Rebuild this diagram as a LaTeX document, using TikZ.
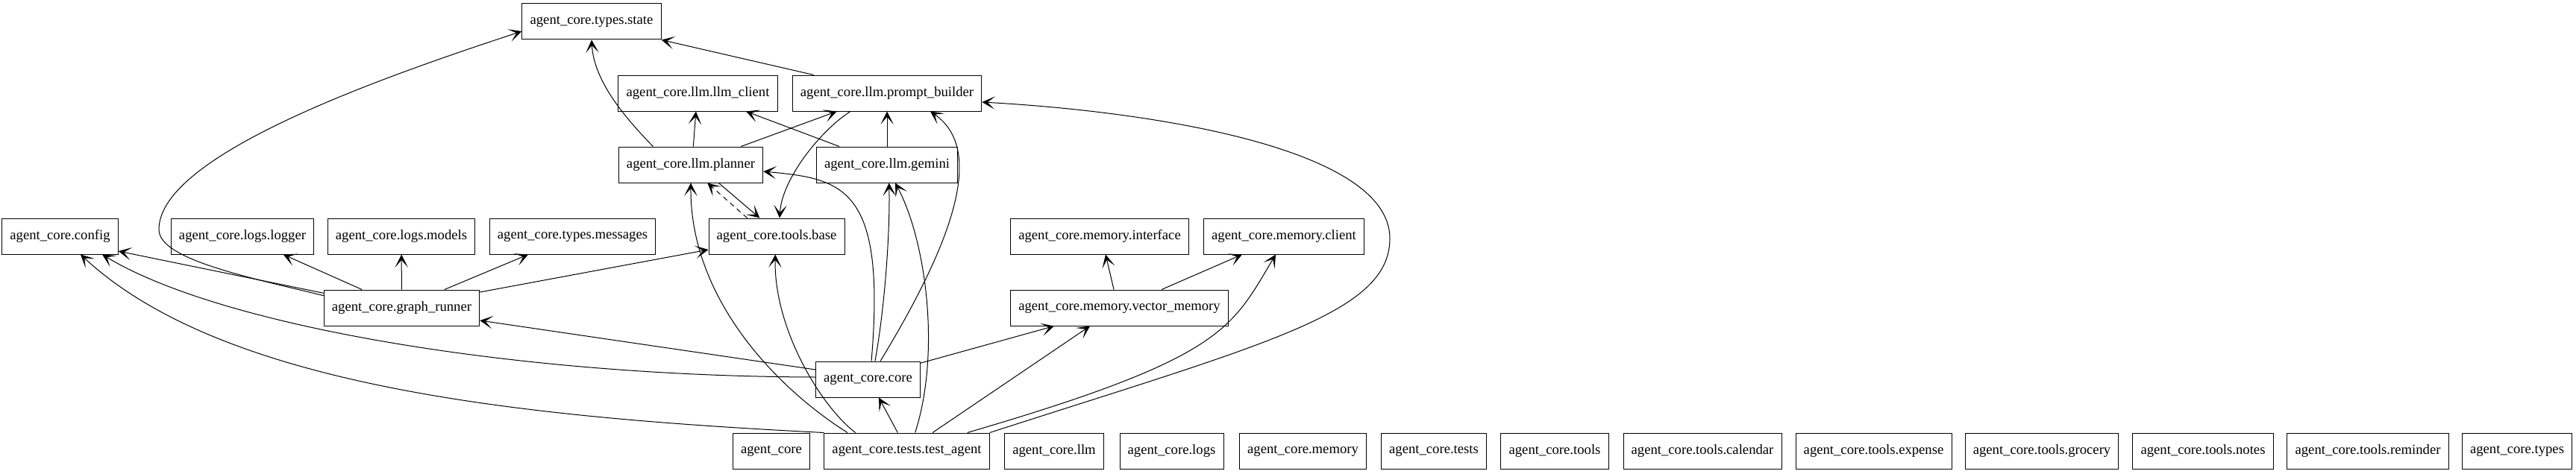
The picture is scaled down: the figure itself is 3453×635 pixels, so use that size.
\documentclass[tikz,border=0pt]{standalone}
\usepackage{fontspec}
\setmainfont{Liberation Serif}
\usetikzlibrary{arrows.meta}

\begin{document}
\begin{tikzpicture}[x=0.75pt,y=-0.75pt,
  module/.style={draw, line width=0.75pt, font=\fontsize{14}{16}\selectfont, inner xsep=8pt, inner ysep=0pt, minimum height=36pt},
  dep/.style={-{Stealth[length=13pt,width=13pt,inset=7.5pt]}, line width=0.75pt},
  lazy/.style={dep, dash pattern=on 5pt off 4pt}]
\useasboundingbox (0,0) rectangle (3453,635);
%modules
\node[module] (state) at (793,29) {agent\_core.types.state};
\node[module] (client) at (935.5,125) {agent\_core.llm.llm\_client};
\node[module] (builder) at (1189,125) {agent\_core.llm.prompt\_builder};
\node[module] (planner) at (926,221) {agent\_core.llm.planner};
\node[module] (gemini) at (1189,221) {agent\_core.llm.gemini};
\node[module] (config) at (80.5,317) {agent\_core.config};
\node[module] (logger) at (325,317) {agent\_core.logs.logger};
\node[module] (models) at (538,317) {agent\_core.logs.models};
\node[module] (messages) at (767.5,317) {agent\_core.types.messages};
\node[module] (base) at (1041,317) {agent\_core.tools.base};
\node[module] (iface) at (1474,317) {agent\_core.memory.interface};
\node[module] (mclient) at (1721,317) {agent\_core.memory.client};
\node[module] (runner) at (538.5,413) {agent\_core.graph\_runner};
\node[module] (vector) at (1500.5,413) {agent\_core.memory.vector\_memory};
\node[module] (core) at (1163.5,509) {agent\_core.core};
%packages
\node[module] (pkg) at (1034,605) {agent\_core};
\node[module] (test) at (1215.5,605) {agent\_core.tests.test\_agent};
\node[module] (llm) at (1413,605) {agent\_core.llm};
\node[module] (logs) at (1570.5,605) {agent\_core.logs};
\node[module] (memory) at (1746.5,605) {agent\_core.memory};
\node[module] (tests) at (1922,605) {agent\_core.tests};
\node[module] (tools) at (2084,605) {agent\_core.tools};
\node[module] (calendar) at (2282,605) {agent\_core.tools.calendar};
\node[module] (expense) at (2511.5,605) {agent\_core.tools.expense};
\node[module] (grocery) at (2737,605) {agent\_core.tools.grocery};
\node[module] (notes) at (2953,605) {agent\_core.tools.notes};
\node[module] (reminder) at (3174,605) {agent\_core.tools.reminder};
\node[module] (types) at (3374,605) {agent\_core.types};
%imports
\draw[dep] ([xshift=-38pt]planner.north) .. controls (840,160) and (796,110) .. (state.south);
\draw[dep] ([xshift=-73.8pt]builder.north) -- (state.south east);
\draw[dep] ([yshift=12.25pt]runner.west) .. controls (333,372) and (213,348) .. (213,308) .. controls (213,208) and (511,104) .. ([yshift=-9.75pt]state.west);
\draw[dep] ([xshift=2.5pt]planner.north) -- ([xshift=-2pt]client.south);
\draw[dep] ([xshift=50.5pt]planner.north) -- ([xshift=-50.5pt]builder.south);
\draw[dep] ([xshift=-48pt]gemini.north) -- ([xshift=48.4pt]client.south);
\draw[dep] (gemini) -- (builder);
\draw[dep] ([xshift=-36.75pt]builder.south) .. controls (1100,175) and (1048,240) .. ([xshift=3pt]base.north);
\draw[dep] ([xshift=28pt]planner.south) -- ([xshift=-17pt]base.north);
\draw[lazy] ([xshift=-29.5pt]base.north) -- ([xshift=16.7pt]planner.south);
\draw[dep] ([xshift=3.4pt]core.north) .. controls (1188,250) and (1130,240) .. ([yshift=-6.75pt]planner.east);
\draw[dep] ([xshift=7.1pt]core.north) .. controls (1188,400) and (1193,300) .. ([xshift=2pt]gemini.south);
\draw[dep] ([xshift=8.4pt]test.north) .. controls (1262,470) and (1240,320) .. ([xshift=8.25pt]gemini.south);
\draw[dep] ([xshift=12.4pt]core.north) .. controls (1280,320) and (1320,200) .. ([xshift=43.5pt]builder.south);
\draw[dep] ([xshift=-9.15pt]test.north) -- ([xshift=10.9pt]core.south);
\draw[dep] ([xshift=-51.6pt]test.north) .. controls (1100,545) and (1037,440) .. ([xshift=-1.3pt]base.south);
\draw[dep] ([xshift=-59.6pt]test.north) .. controls (1040,520) and (925,400) .. (planner.south);
\draw[dep] ([xshift=25.9pt]test.north) -- ([xshift=-29.6pt]vector.south);
\draw[dep] ([xshift=60.9pt]test.north) .. controls (1640,480) and (1650,442) .. ([xshift=-8.25pt]mclient.south);
\draw[dep] (test.north east) .. controls (1700,460) and (1863,420) .. (1863,320) .. controls (1863,200) and (1550,150) .. ([yshift=-9pt]builder.east);
\draw[dep] ([yshift=-2pt]core.north east) -- ([xshift=-65.6pt]vector.south);
\draw[dep] ([xshift=-5.6pt]vector.north) -- ([xshift=6pt]iface.south);
\draw[dep] ([xshift=42.4pt]vector.north) -- ([xshift=-42pt]mclient.south);
\draw[dep] ([yshift=9.75pt]core.west) -- ([yshift=-12.75pt]runner.east);
\draw[dep] ([yshift=2.25pt]core.west) .. controls (700,505) and (300,440) .. ([xshift=42.4pt]config.south);
\draw[dep] (test.north west) .. controls (700,560) and (300,520) .. ([xshift=20.6pt]config.south);
\draw[dep] ([yshift=14.75pt]runner.west) -- ([yshift=-15pt]config.east);
\draw[dep] ([xshift=-40pt]runner.north) -- ([xshift=41pt]logger.south);
\draw[dep] (runner) -- (models);
\draw[dep] ([xshift=43pt]runner.north) -- ([xshift=-44.6pt]messages.south);
\draw[dep] ([yshift=15.75pt]runner.east) -- ([yshift=-13.5pt]base.west);
\end{tikzpicture}
\end{document}
